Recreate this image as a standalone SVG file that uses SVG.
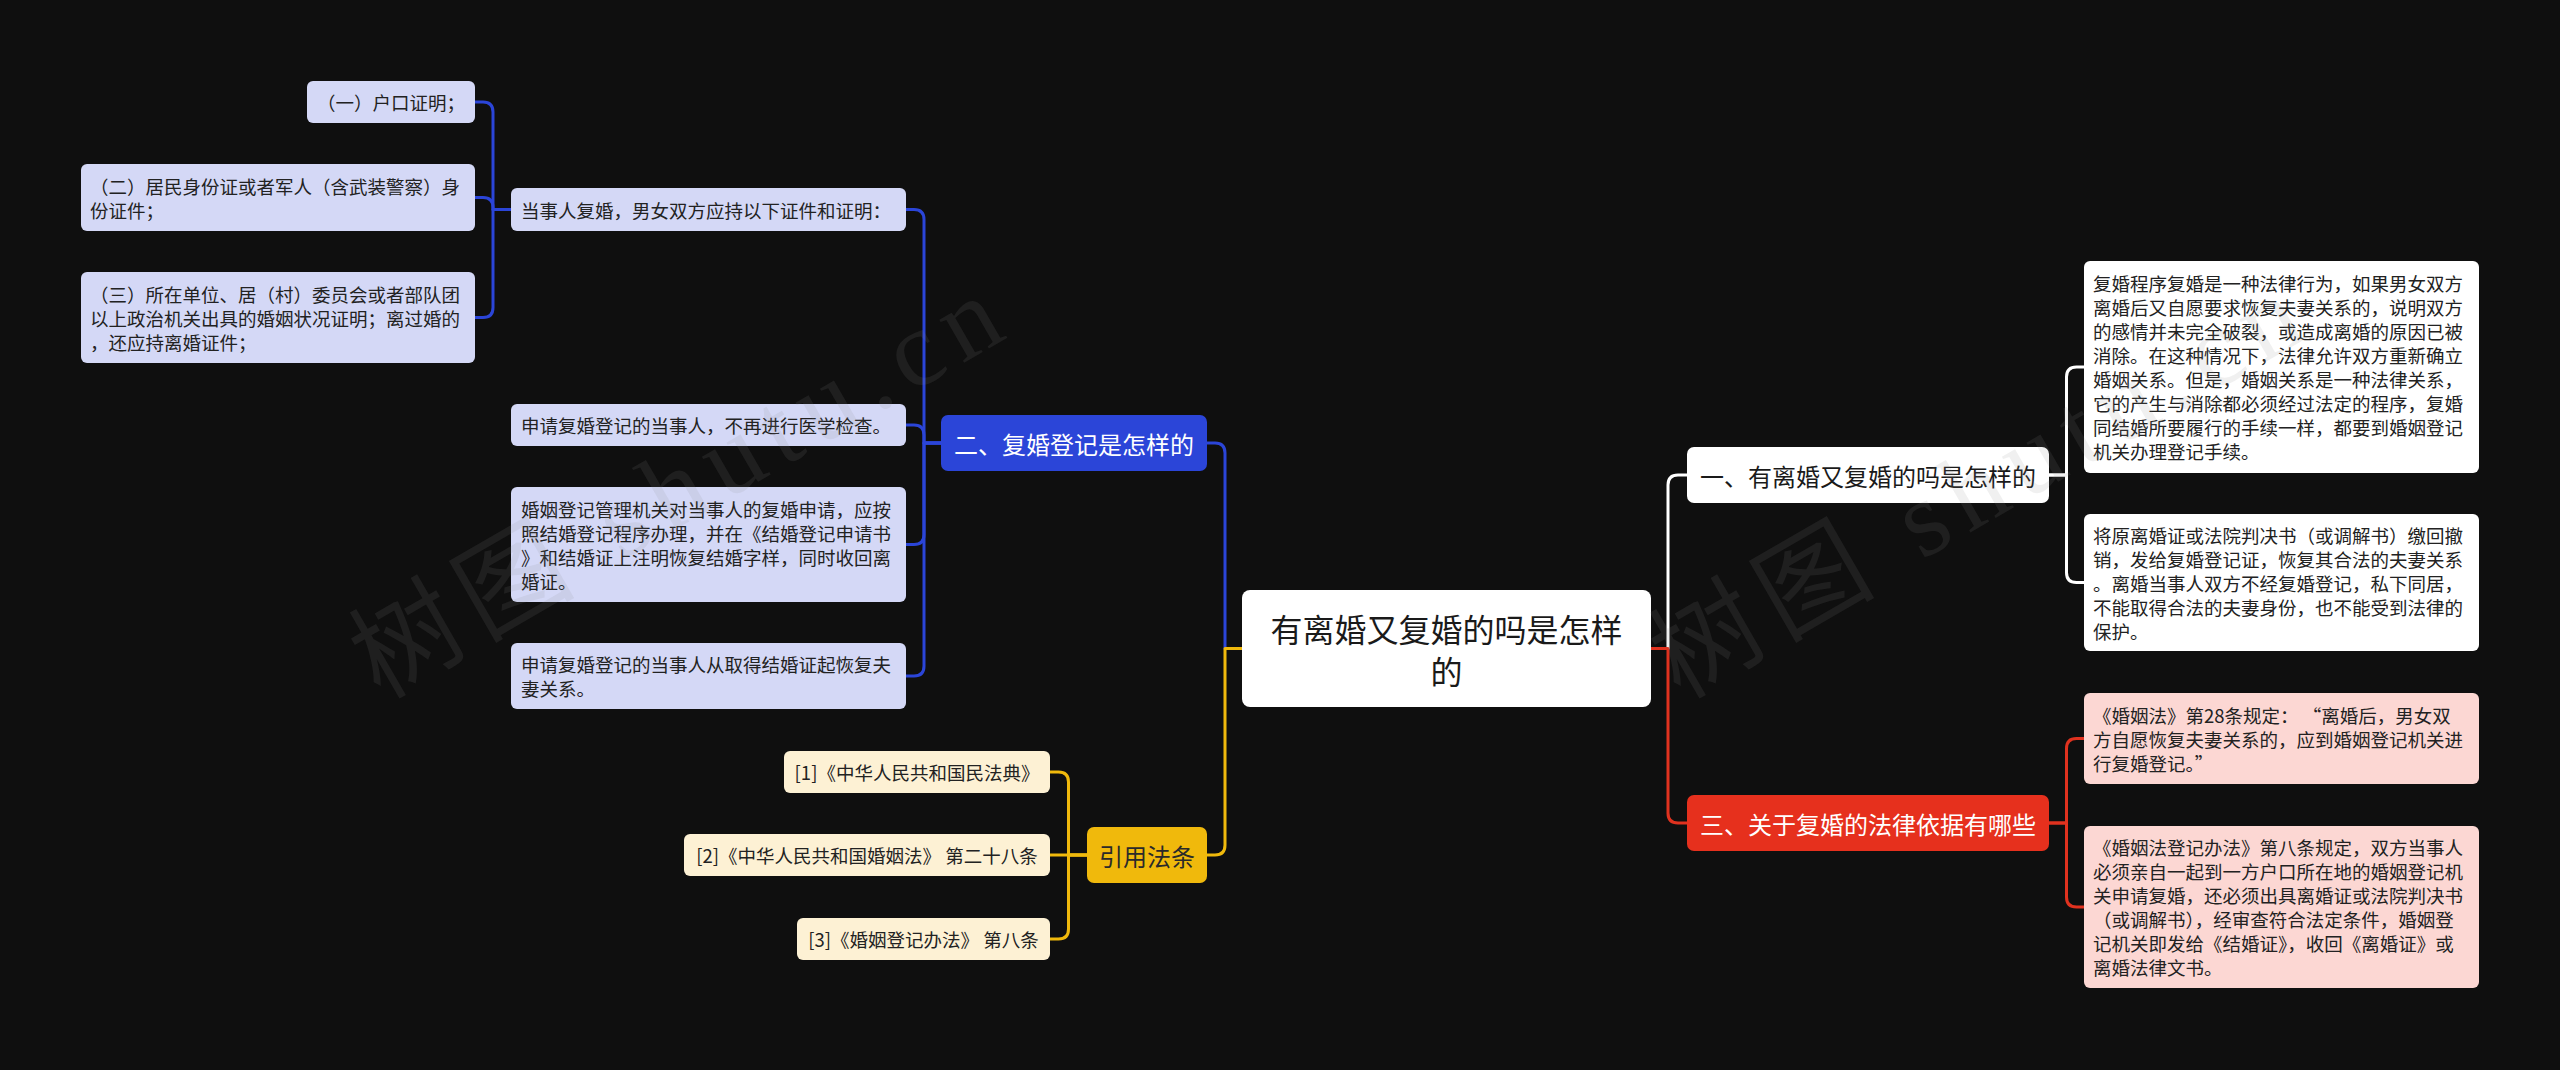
<svg xmlns="http://www.w3.org/2000/svg" width="2560" height="1070" viewBox="0 0 2560 1070">
<style>
text { font-family: "Noto Sans CJK SC", "Noto Sans", sans-serif; dominant-baseline: central; }
.s { font-size: 18.5px; fill: #222222; }
.m { font-size: 24px; }
.c { font-size: 32px; fill: #1a1a1a; text-anchor: middle; }
.mid { text-anchor: middle; }
.lav { fill: #d4d8f6; }
.cream { fill: #fdf1d4; }
.pink { fill: #fcd7d3; }
.wht { fill: #ffffff; }
.blue { fill: #2b45d8; }
.yel { fill: #f0b90c; }
.red { fill: #e6301d; }
.ln { fill: none; stroke-width: 3; stroke-linejoin: round; }
.lb { stroke: #2b45d8; }
.ly { stroke: #f0b90c; }
.lw { stroke: #ffffff; }
.lr { stroke: #e0321f; }
.wm { font-family: "Liberation Serif", "Noto Sans CJK SC", serif; font-size: 108px; fill: #8a8a8a; fill-opacity: 0.13; letter-spacing: 12px; dominant-baseline: alphabetic; }
</style>
<rect x="0" y="0" width="2560" height="1070" fill="#0f0f0f"/>

<g id="connectors">
  <path class="ln lb" d="M1242,648.5 H1225 V453 Q1225,443 1215,443 H1207"/>
  <path class="ln ly" d="M1242,648.5 H1225 V845 Q1225,855 1215,855 H1207"/>
  <path class="ln lb" d="M941,443 H924 V219.5 Q924,209.5 914,209.5 H906"/>
  <path class="ln lb" d="M941,443 H924 V435 Q924,425 914,425 H906"/>
  <path class="ln lb" d="M941,443 H924 V534.5 Q924,544.5 914,544.5 H906"/>
  <path class="ln lb" d="M941,443 H924 V666 Q924,676 914,676 H906"/>
  <path class="ln lb" d="M511,209.5 H493 V112 Q493,102 483,102 H475"/>
  <path class="ln lb" d="M511,209.5 H493 V207.5 Q493,197.5 483,197.5 H475"/>
  <path class="ln lb" d="M511,209.5 H493 V307.5 Q493,317.5 483,317.5 H475"/>
  <path class="ln ly" d="M1087,855 H1068.5 V782 Q1068.5,772 1058.5,772 H1050"/>
  <path class="ln ly" d="M1087,855 H1050"/>
  <path class="ln ly" d="M1087,855 H1068.5 V929 Q1068.5,939 1058.5,939 H1050"/>
  <path class="ln lw" d="M1651,648.5 H1668 V485 Q1668,475 1678,475 H1687"/>
  <path class="ln lr" d="M1651,648.5 H1668 V813 Q1668,823 1678,823 H1687"/>
  <path class="ln lw" d="M2049,475 H2066.5 V377 Q2066.5,367 2076.5,367 H2084"/>
  <path class="ln lw" d="M2049,475 H2066.5 V572.5 Q2066.5,582.5 2076.5,582.5 H2084"/>
  <path class="ln lr" d="M2049,823 H2066.5 V748.5 Q2066.5,738.5 2076.5,738.5 H2084"/>
  <path class="ln lr" d="M2049,823 H2066.5 V897 Q2066.5,907 2076.5,907 H2084"/>
</g>

<g id="node-root">
  <rect class="wht" x="1242" y="590" width="409" height="117" rx="8"/>
  <text class="c" x="1446.5" y="628">有离婚又复婚的吗是怎样</text>
  <text class="c" x="1446.5" y="670">的</text>
</g>

<g id="node-2">
  <rect class="blue" x="941" y="415" width="266" height="56" rx="7"/>
  <text class="m mid" x="1074" y="443" fill="#ffffff">二、复婚登记是怎样的</text>
</g>
<g id="node-2-1">
  <rect class="lav" x="511" y="188" width="395" height="43" rx="6"/>
  <text class="s" x="521" y="209.5">当事人复婚，男女双方应持以下证件和证明：</text>
</g>
<g id="node-2-1-1">
  <rect class="lav" x="307" y="81" width="168" height="42" rx="6"/>
  <text class="s" x="317" y="102">（一）户口证明；</text>
</g>
<g id="node-2-1-2">
  <rect class="lav" x="81" y="164" width="394" height="67" rx="6"/>
  <text class="s" x="90" y="185.5">（二）居民身份证或者军人（含武装警察）身</text>
  <text class="s" x="90" y="209.5">份证件；</text>
</g>
<g id="node-2-1-3">
  <rect class="lav" x="81" y="272" width="394" height="91" rx="6"/>
  <text class="s" x="90" y="293.5">（三）所在单位、居（村）委员会或者部队团</text>
  <text class="s" x="90" y="317.5">以上政治机关出具的婚姻状况证明；离过婚的</text>
  <text class="s" x="90" y="341.5">，还应持离婚证件；</text>
</g>
<g id="node-2-2">
  <rect class="lav" x="511" y="404" width="395" height="42" rx="6"/>
  <text class="s" x="521" y="425">申请复婚登记的当事人，不再进行医学检查。</text>
</g>
<g id="node-2-3">
  <rect class="lav" x="511" y="487" width="395" height="115" rx="6"/>
  <text class="s" x="521" y="509">婚姻登记管理机关对当事人的复婚申请，应按</text>
  <text class="s" x="521" y="533">照结婚登记程序办理，并在《结婚登记申请书</text>
  <text class="s" x="521" y="557">》和结婚证上注明恢复结婚字样，同时收回离</text>
  <text class="s" x="521" y="581">婚证。</text>
</g>
<g id="node-2-4">
  <rect class="lav" x="511" y="643" width="395" height="66" rx="6"/>
  <text class="s" x="521" y="664">申请复婚登记的当事人从取得结婚证起恢复夫</text>
  <text class="s" x="521" y="688">妻关系。</text>
</g>

<g id="node-law">
  <rect class="yel" x="1087" y="827" width="120" height="56" rx="7"/>
  <text class="m mid" x="1147" y="855" fill="#2a2a2a">引用法条</text>
</g>
<g id="node-law-1">
  <rect class="cream" x="784" y="751" width="266" height="42" rx="6"/>
  <text class="s mid" x="917" y="772">[1]《中华人民共和国民法典》</text>
</g>
<g id="node-law-2">
  <rect class="cream" x="684" y="834" width="366" height="42" rx="6"/>
  <text class="s mid" x="867" y="855">[2]《中华人民共和国婚姻法》 第二十八条</text>
</g>
<g id="node-law-3">
  <rect class="cream" x="797" y="918" width="253" height="42" rx="6"/>
  <text class="s mid" x="923.5" y="939">[3]《婚姻登记办法》 第八条</text>
</g>

<g id="node-1">
  <rect class="wht" x="1687" y="447" width="362" height="56" rx="7"/>
  <text class="m mid" x="1868" y="475" fill="#1a1a1a">一、有离婚又复婚的吗是怎样的</text>
</g>
<g id="node-1-1">
  <rect class="wht" x="2084" y="261" width="395" height="212" rx="6"/>
  <text class="s" x="2093" y="283">复婚程序复婚是一种法律行为，如果男女双方</text>
  <text class="s" x="2093" y="307">离婚后又自愿要求恢复夫妻关系的，说明双方</text>
  <text class="s" x="2093" y="331">的感情并未完全破裂，或造成离婚的原因已被</text>
  <text class="s" x="2093" y="355">消除。在这种情况下，法律允许双方重新确立</text>
  <text class="s" x="2093" y="379">婚姻关系。但是，婚姻关系是一种法律关系，</text>
  <text class="s" x="2093" y="403">它的产生与消除都必须经过法定的程序，复婚</text>
  <text class="s" x="2093" y="427">同结婚所要履行的手续一样，都要到婚姻登记</text>
  <text class="s" x="2093" y="451">机关办理登记手续。</text>
</g>
<g id="node-1-2">
  <rect class="wht" x="2084" y="514" width="395" height="137" rx="6"/>
  <text class="s" x="2093" y="534.5">将原离婚证或法院判决书（或调解书）缴回撤</text>
  <text class="s" x="2093" y="558.5">销，发给复婚登记证，恢复其合法的夫妻关系</text>
  <text class="s" x="2093" y="582.5">。离婚当事人双方不经复婚登记，私下同居，</text>
  <text class="s" x="2093" y="606.5">不能取得合法的夫妻身份，也不能受到法律的</text>
  <text class="s" x="2093" y="630.5">保护。</text>
</g>

<g id="node-3">
  <rect class="red" x="1687" y="795" width="362" height="56" rx="7"/>
  <text class="m mid" x="1868" y="823" fill="#ffffff">三、关于复婚的法律依据有哪些</text>
</g>
<g id="node-3-1">
  <rect class="pink" x="2084" y="693" width="395" height="91" rx="6"/>
  <text class="s" x="2093" y="714.5">《婚姻法》第28条规定： “离婚后，男女双</text>
  <text class="s" x="2093" y="738.5">方自愿恢复夫妻关系的，应到婚姻登记机关进</text>
  <text class="s" x="2093" y="762.5">行复婚登记。”</text>
</g>
<g id="node-3-2">
  <rect class="pink" x="2084" y="826" width="395" height="162" rx="6"/>
  <text class="s" x="2093" y="847">《婚姻法登记办法》第八条规定，双方当事人</text>
  <text class="s" x="2093" y="871">必须亲自一起到一方户口所在地的婚姻登记机</text>
  <text class="s" x="2093" y="895">关申请复婚，还必须出具离婚证或法院判决书</text>
  <text class="s" x="2093" y="919">（或调解书），经审查符合法定条件，婚姻登</text>
  <text class="s" x="2093" y="943">记机关即发给《结婚证》，收回《离婚证》或</text>
  <text class="s" x="2093" y="967">离婚法律文书。</text>
</g>

<g id="watermark">
  <text class="wm" x="380" y="700" transform="rotate(-30 380 700)">树图 shutu.cn</text>
  <text class="wm" x="1680" y="700" transform="rotate(-30 1680 700)">树图 shutu.cn</text>
</g>
</svg>
